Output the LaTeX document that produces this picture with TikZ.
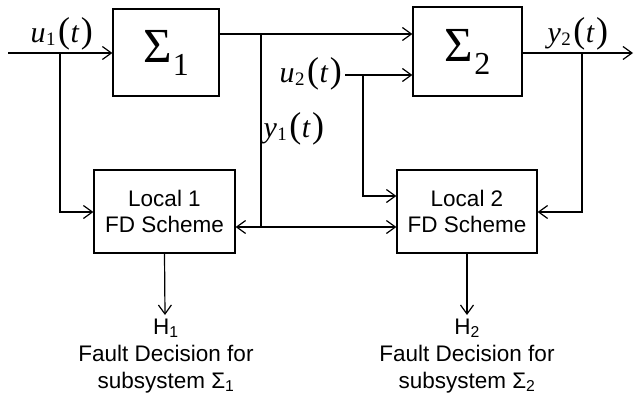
\documentclass[tikz,border=0pt]{standalone}
\usepackage{fontspec}
\setmainfont{Liberation Serif}
\setsansfont{Liberation Sans}
\usetikzlibrary{arrows.meta}
\newcommand{\sigl}[2]{{\fontsize{30}{30}\selectfont\itshape #1}\kern0.5pt\raisebox{-3pt}{\fontsize{19}{19}\selectfont #2}\kern2.5pt{\fontsize{36}{36}\selectfont(}\kern0.5pt{\fontsize{30}{30}\selectfont\itshape t}\kern2pt{\fontsize{36}{36}\selectfont)}}
\newcommand{\bigsig}[1]{{\fontsize{49}{49}\selectfont\char"03A3}\kern1pt\raisebox{-13pt}{\fontsize{32}{32}\selectfont #1}}
\begin{document}
\begin{tikzpicture}[x=1pt,y=-1pt,
  line width=1.2pt,
  sysbox/.style={draw, rectangle, inner sep=0pt},
  fdbox/.style={draw, rectangle, inner sep=0pt, align=center, font=\sffamily\fontsize{22.5}{26}\selectfont},
  sig/.style={inner sep=0pt, anchor=base west},
  note/.style={inner sep=0pt, align=center, font=\sffamily\fontsize{22.5}{27}\selectfont},
  arr/.style={-{Straight Barb[length=9pt,width=13pt]}},
  darr/.style={{Straight Barb[length=9pt,width=13pt]}-{Straight Barb[length=9pt,width=13pt]}}
]
\useasboundingbox (0,0) rectangle (634,396);
% blocks
\node[sysbox, minimum width=106pt, minimum height=87pt] (S1) at (166,52.5) {\bigsig{1}};
\node[sysbox, minimum width=109pt, minimum height=89pt] (S2) at (467.5,51.5) {\bigsig{2}};
\node[fdbox, minimum width=141pt, minimum height=83pt] (L1) at (164.5,211.5) {Local 1\\FD Scheme};
\node[fdbox, minimum width=140pt, minimum height=83pt] (L2) at (467,211.5) {Local 2\\FD Scheme};
% signal labels
\node[sig] (lu1) at (30,43) {\sigl{u}{1}};
\node[sig] (lu2) at (279,82) {\sigl{u}{2}};
\node[sig] (ly1) at (263,137) {\sigl{y}{1}};
\node[sig] (ly2) at (547,43) {\sigl{y}{2}};
% junctions and free ends
\coordinate (in) at (8,53);
\coordinate (j1) at (60,53);
\coordinate (j2) at (261,34);
\coordinate (j2b) at (261,227);
\coordinate (u2s) at (345,75);
\coordinate (j3) at (363,75);
\coordinate (j4) at (582,53);
\coordinate (out) at (633,53);
\coordinate (h1) at (165,315);
\coordinate (h2) at (467,315);
% connectors
\draw[arr] (in) -- (S1.west |- in);
\draw[arr] (j1) |- (L1.west |- 0,212);
\draw[arr] (S1.east |- j2) -- (S2.west |- j2);
\draw (j2) -- (j2b);
\draw[darr] (L1.east |- j2b) -- (L2.west |- j2b);
\draw[arr] (u2s) -- (S2.west |- u2s);
\draw[arr] (j3) |- (L2.west |- 0,196);
\draw[arr] (S2.east |- out) -- (out);
\draw[arr] (j4) |- (L2.east |- 0,212);
\draw[arr] (L1.south) -- (h1);
\draw[arr] (L2.south) -- (h2);
% decisions
\node[note, anchor=north] (d1) at (166,318) {H\textsubscript{1}\\Fault Decision for\\subsystem \char"03A3\textsubscript{1}};
\node[note, anchor=north] (d2) at (467,318) {H\textsubscript{2}\\Fault Decision for\\subsystem \char"03A3\textsubscript{2}};
\end{tikzpicture}
\end{document}
